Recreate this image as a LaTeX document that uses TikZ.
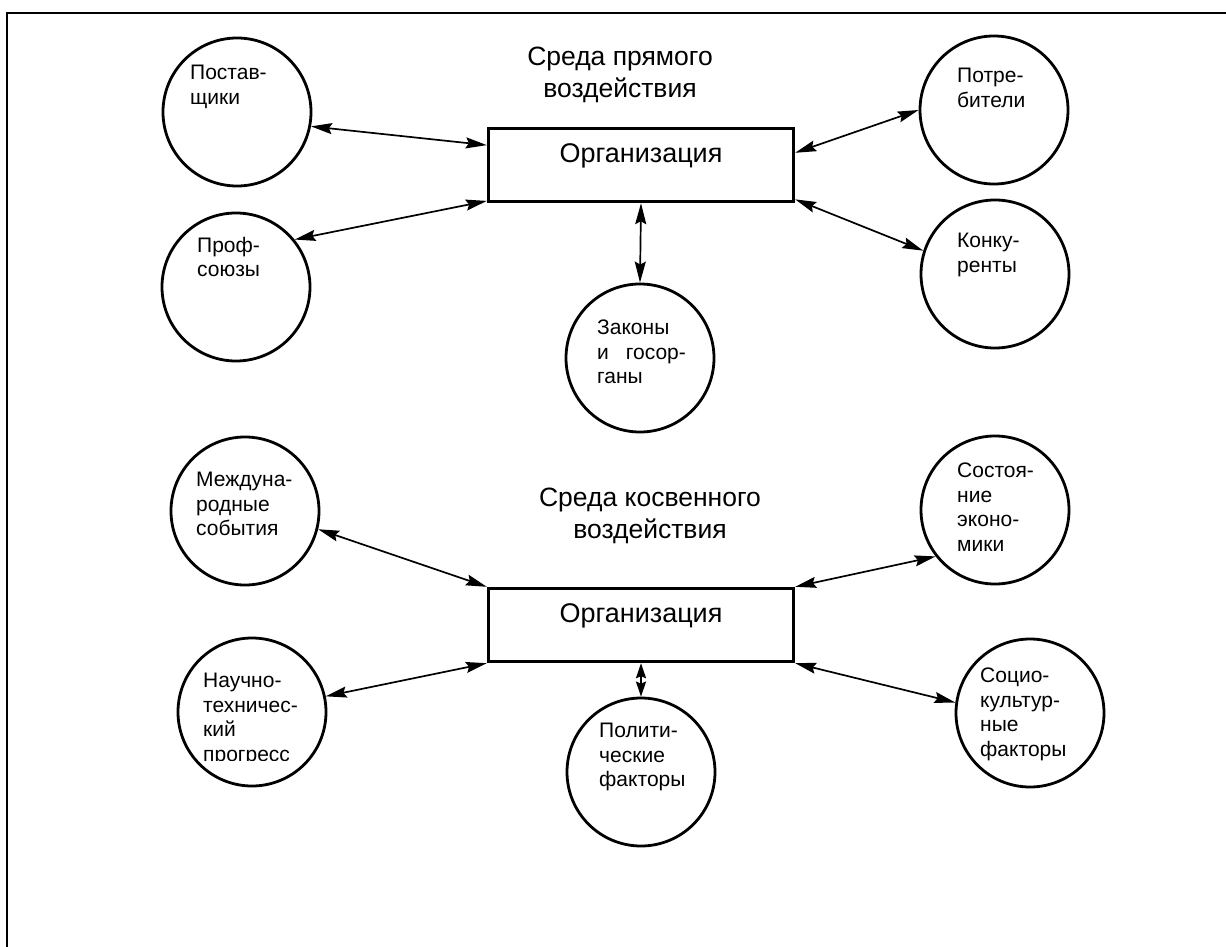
\documentclass[tikz,border=0pt]{standalone}
\usepackage{fontspec}
\setmainfont{Liberation Sans}
\usetikzlibrary{arrows.meta,calc}
\begin{document}
\begin{tikzpicture}[x=1pt,y=-1pt,
  env/.style={draw, circle, line width=2.8pt, minimum size=148pt, inner sep=0pt},
  envtext/.style={anchor=north west, align=left, inner sep=0pt, font=\fontsize{21}{24.5}\selectfont},
  orgbox/.style={draw, line width=3.4pt, minimum width=305pt, minimum height=73pt,
    text height=19.5pt, text depth=25.5pt, font=\fontsize{27}{30}\selectfont},
  envtitle/.style={anchor=north, align=center, inner sep=0pt, font=\fontsize{26.5}{32}\selectfont},
  link/.style={{Stealth[length=21pt,width=11pt,inset=3pt]}-{Stealth[length=21pt,width=11pt,inset=3pt]}, line width=1.7pt},
  shortlink/.style={{Stealth[length=15pt,width=10pt,inset=2pt]}-{Stealth[length=15pt,width=10pt,inset=2pt]}, line width=1.7pt}]
\useasboundingbox (0,0) rectangle (1226,947);
\draw[line width=1.8pt] (7,947) -- (7,13) -- (1226,13);
% direct environment
\node[envtitle] (title1) at (620,47) {Среда прямого\\воздействия};
\node[orgbox] (org1) at (641,165) {Организация};
\node[env] (sup) at (237,112) {};
\node[envtext] (sup-t) at (190,65) {Постав-\\щики};
\node[env] (prof) at (236,287) {};
\node[envtext] (prof-t) at (197,237) {Проф-\\союзы};
\node[env] (law) at (640,358) {};
\node[envtext] (law-t) at (597,320) {Законы\\и\hspace{17pt}госор-\\ганы};
\node[env] (cons) at (994,110) {};
\node[envtext] (cons-t) at (957,68) {Потре-\\бители};
\node[env] (comp) at (995,274) {};
\node[envtext] (comp-t) at (957,233) {Конку-\\ренты};
\draw[link] (sup.-11) -- ($(org1.north west)!0.24!(org1.south west)$);
\draw[link] (prof.39) -- ($(org1.north west)!0.97!(org1.south west)$);
\draw[link] ($(org1.north east)!0.34!(org1.south east)$) -- (cons.180);
\draw[link] ($(org1.north east)!0.95!(org1.south east)$) -- (comp.162);
\draw[link] (org1.south) -- (law.north);
% indirect environment
\node[envtitle] (title2) at (650,488) {Среда косвенного\\воздействия};
\node[orgbox] (org2) at (641,625) {Организация};
\node[env] (intl) at (245,511) {};
\node[envtext] (intl-t) at (196,472) {Междуна-\\родные\\события};
\node[env] (sci) at (252,712) {};
\begin{scope}
\clip (150,600) rectangle (340,760);
\node[envtext] (sci-t) at (203,673) {Научно-\\техничес-\\кий\\прогресс};
\end{scope}
\node[env] (pol) at (641,772) {};
\node[envtext] (pol-t) at (599,723) {Полити-\\ческие\\факторы};
\node[env] (econ) at (995,510) {};
\node[envtext] (econ-t) at (957,463) {Состоя-\\ние\\эконо-\\мики};
\node[env] (soc) at (1030,713) {};
\node[envtext] (soc-t) at (980,668) {Социо-\\культур-\\ные\\факторы};
\draw[link] (intl.-14) -- (org2.north west);
\draw[link] (sci.12) -- (org2.south west);
\draw[link] (org2.north east) -- (econ.-142);
\draw[link] (org2.south east) -- (soc.172);
\draw[shortlink] (org2.south) -- (pol.north);
\end{tikzpicture}
\end{document}
